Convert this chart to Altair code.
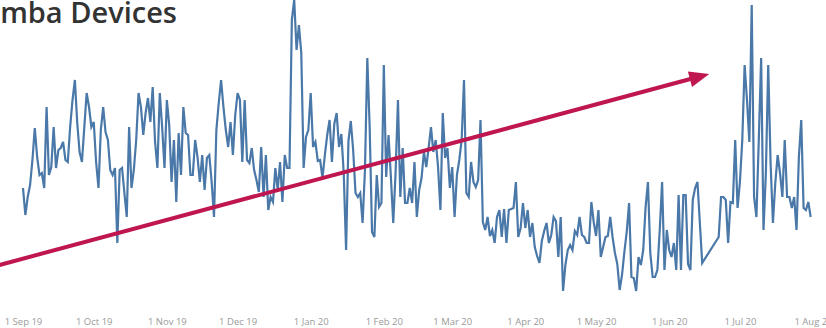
import altair as alt
import pandas as pd

# Daily values (arbitrary device-count units)
sep19 = [112, 85, 103, 115, 140, 172, 143, 125, 127, 112, 193, 125, 133, 173, 132, 150, 152, 158, 140, 138,
         173, 200, 220, 177, 148, 138, 173, 207, 193, 173]
oct19 = [178, 138, 112, 170, 193, 168, 160, 130, 125, 132, 57, 130, 132, 107, 83, 173, 112, 130, 160, 207,
         193, 165, 187, 202, 178, 213, 158, 132, 207, 173, 132]
nov19 = [200, 175, 118, 160, 98, 167, 125, 193, 167, 165, 125, 125, 160, 143, 118, 145, 110, 142, 145, 118,
         83, 170, 197, 220, 193, 170, 153, 178, 145, 185]
dec19 = [207, 200, 138, 200, 140, 137, 152, 130, 120, 108, 153, 103, 145, 90, 103, 98, 132, 110, 138, 98,
         145, 132, 132, 280, 300, 250, 275, 247, 132, 163, 170]
jan20 = [207, 153, 158, 139, 140, 122, 145, 165, 180, 138, 176, 187, 153, 166, 127, 50, 159, 179, 150, 107,
         103, 107, 77, 130, 242, 173, 68, 63, 125, 93, 97]
feb20 = [235, 123, 165, 123, 77, 128, 200, 103, 152, 97, 97, 112, 97, 138, 83, 110, 122, 148, 133, 152,
         173, 148, 160, 133, 90, 187, 142, 152, 112]
mar20 = [133, 83, 125, 140, 160, 220, 107, 103, 138, 118, 113, 120, 180, 78, 70, 83, 64, 70, 57, 83,
         90, 63, 91, 57, 90, 91, 92, 118, 63, 72, 97]
apr20 = [72, 90, 63, 77, 53, 44, 37, 59, 69, 77, 57, 65, 83, 79, 43, 83, 9, 35, 50, 55,
         50, 69, 65, 83, 65, 63, 57, 57, 98, 78]
may20 = [64, 90, 43, 53, 63, 64, 83, 63, 47, 36, 10, 25, 48, 68, 97, 23, 22, 9, 43, 35,
         50, 93, 118, 47, 23, 23, 30, 70, 118, 30, 70]
jun20_days = [1, 2, 3, 4, 5, 6, 7, 8, 9, 10, 11, 12, 13, 15, 22, 23, 24, 25, 26, 27, 28, 29, 30]
jun20 = [50, 43, 57, 30, 105, 30, 105, 105, 36, 30, 100, 112, 118, 37, 63, 103, 103, 100, 57, 98, 97, 160, 92]
jul20 = [118, 160, 235, 200, 158, 295, 103, 83, 160, 242, 70, 127, 235, 137, 77, 117, 145, 127, 103, 160,
         103, 103, 92, 103, 70, 143, 180, 92, 90, 98, 83]

# Axis tick months (first day of each)
tick_months = [(2019, 9), (2019, 10), (2019, 11), (2019, 12), (2020, 1), (2020, 2), (2020, 3),
               (2020, 4), (2020, 5), (2020, 6), (2020, 7), (2020, 8)]

# Trend arrow (data units)
arrow_dates = ["2019-08-22T00:00:00", "2020-06-10T00:00:00"]
arrow_values = [35, 221]
arrow_tip_date = ["2020-06-18T00:00:00"]
arrow_tip_value = [226]

title_text = "Roomba Devices"

LINE = "#4a78a8"
ARROW = "#bf1650"

rows = []
for (yr, mo, vals) in [(2019, 9, sep19), (2019, 10, oct19), (2019, 11, nov19), (2019, 12, dec19),
                       (2020, 1, jan20), (2020, 2, feb20), (2020, 3, mar20), (2020, 4, apr20),
                       (2020, 5, may20)]:
    for i, v in enumerate(vals):
        rows.append({"date": f"{yr}-{mo:02d}-{i + 1:02d}T00:00:00", "value": v})
for d, v in zip(jun20_days, jun20):
    rows.append({"date": f"2020-06-{d:02d}T00:00:00", "value": v})
for i, v in enumerate(jul20):
    rows.append({"date": f"2020-07-{i + 1:02d}T00:00:00", "value": v})
df = pd.DataFrame(rows)

arrow_df = pd.DataFrame({"date": arrow_dates, "value": arrow_values})
tip_df = pd.DataFrame({"date": arrow_tip_date, "value": arrow_tip_value})
title_df = pd.DataFrame({"t": [title_text]})

x_scale = alt.Scale(domain=[alt.DateTime(year=2019, month=8, date=22, hours=6),
                            alt.DateTime(year=2020, month=8, date=6, hours=12)])
y_scale = alt.Scale(domain=[0, 300], nice=False, zero=False)

x_axis = alt.Axis(
    title=None,
    values=[alt.DateTime(year=y, month=m, date=1) for (y, m) in tick_months],
    format="%-d %b %y",
    labelColor="#9a9a9a",
    labelFontSize=9.5,
    labelFont="Open Sans",
    labelPadding=16,
    labelFlush=False,
    labelOverlap=False,
    domain=False,
    ticks=False,
    grid=False,
)

line = alt.Chart(df).mark_line(color=LINE, strokeWidth=2.2, interpolate="linear").encode(
    x=alt.X("date:T", scale=x_scale, axis=x_axis),
    y=alt.Y("value:Q", scale=y_scale, axis=None),
)

shaft = alt.Chart(arrow_df).mark_line(color=ARROW, strokeWidth=4, strokeCap="butt").encode(
    x=alt.X("date:T", scale=x_scale),
    y=alt.Y("value:Q", scale=y_scale),
)

head = alt.Chart(tip_df).mark_point(
    shape="M0,0 L-2,-0.8 L-2,0.8 Z", filled=True, color=ARROW, opacity=1, size=400, angle=345, strokeWidth=0
).encode(
    x=alt.X("date:T", scale=x_scale),
    y=alt.Y("value:Q", scale=y_scale),
)

title = alt.Chart(title_df).mark_text(
    align="right", baseline="alphabetic", font="Open Sans", fontSize=29, fontWeight=600, color="#333333"
).encode(text="t:N", x=alt.value(177), y=alt.value(23))

chart = alt.layer(line, shaft, head, title).properties(
    width=826, height=300,
    autosize=alt.AutoSizeParams(type="none"),
    padding={"left": 0, "top": 0, "right": 0, "bottom": 28},
).configure_view(stroke=None)

chart.save("out.html", embed_options={"renderer": "svg", "actions": False})
